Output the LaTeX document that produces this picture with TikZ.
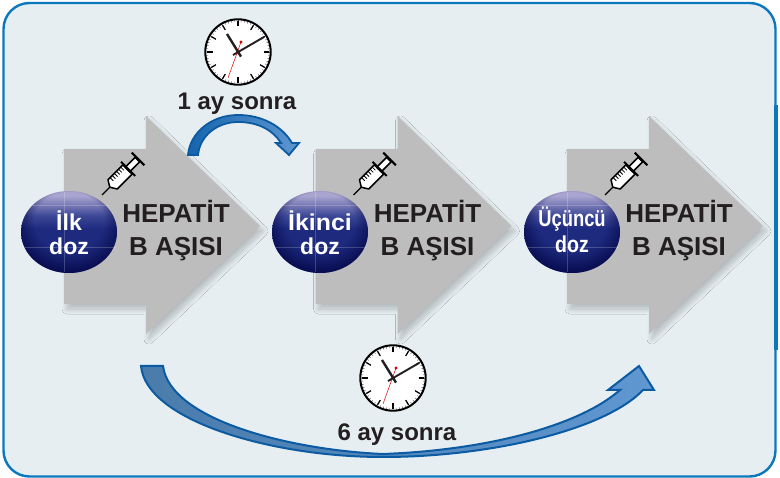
\documentclass[tikz,border=0pt]{standalone}
\usepackage{fontspec}
\setmainfont{Liberation Sans}
\usetikzlibrary{shadows.blur,calc,fadings}
\definecolor{panelbg}{HTML}{E6EEF2}
\definecolor{panelline}{HTML}{0B78BE}
\definecolor{arrowgrey}{HTML}{BDBDBD}
\definecolor{textdark}{HTML}{231F20}
\definecolor{curveline}{HTML}{0B5AA2}
\definecolor{curveA}{HTML}{4A7CAB}
\definecolor{curveB}{HTML}{5F97D1}
\definecolor{curveC}{HTML}{1565AD}
\definecolor{ballA}{HTML}{A9A4D0}
\definecolor{ballB}{HTML}{3C4796}
\definecolor{ballC}{HTML}{1D2A7E}
\definecolor{ballD}{HTML}{00003C}
\pgfdeclareverticalshading{ballshade}{100bp}{
  color(0bp)=(ballC); color(25bp)=(ballC); color(52bp)=(ballC); color(60bp)=(ballB); color(72bp)=(ballA); color(100bp)=(ballA)}
\pgfdeclareradialshading{rimshade}{\pgfpoint{0bp}{10bp}}{
  color(0bp)=(black); color(18bp)=(black); color(31bp)=(white!85!black); color(50bp)=(white)}
\pgfdeclarefading{rimfade}{\pgfuseshading{rimshade}}
\tikzset{
  bigarrow/.style={fill=arrowgrey,blur shadow={shadow xshift=3pt,shadow yshift=-5pt,shadow blur steps=16,shadow blur radius=5pt,shadow opacity=22}},
  headtext/.style={font=\fontsize{26}{26}\selectfont\bfseries,text=textdark,anchor=base,inner sep=0pt},
  balltext/.style={font=\fontsize{23}{23}\selectfont\bfseries,text=white,anchor=base,inner sep=0pt},
  timetext/.style={font=\fontsize{24}{24}\selectfont\bfseries,text=textdark,anchor=base,inner sep=0pt},
  curvearrow/.style={draw=curveline,line width=2pt,line join=miter,left color=curveA,right color=curveB},
  shortarrow/.style={draw=curveline,line width=1.8pt,line join=miter,left color=curveC,right color=curveB},
  synline/.style={draw=black,fill=white,line width=1.5pt,line join=round}
}
\newcommand{\clockface}[3]{%
 \begin{scope}[shift={(#1,#2)}]
  \fill[white] (0,0) circle (#3);
  \foreach \a in {0,6,...,354}{\draw[black!60,line width=.5pt] (\a:#3-3.5) -- (\a:#3-2);}
  \foreach \a in {0,30,...,330}{\draw[black,line width=1.3pt] (\a:#3-8) -- (\a:#3-2.5);}
  \draw[black,line width=2pt] (0,0) circle (#3-.8);
  \draw[textdark,line width=2.4pt] (3,4.6) -- (-11,-18);
  \draw[textdark,line width=1.9pt] (-5,3) -- (26,-15);
  \draw[red!85!black,line width=.5pt] (3,-10) -- (-10,26);
  \fill[red!85!black] (3,-10) circle (1.7);
  \fill[textdark] (0,0) circle (1.8);
 \end{scope}}
\begin{document}
\begin{tikzpicture}[x=1pt,y=-1pt]
\useasboundingbox (0,0) rectangle (780,478);
\fill[white] (0,0) rectangle (780,478);
\draw[fill=panelbg,draw=panelline,line width=2.4pt,rounded corners=26pt] (3.5,3) rectangle (775.5,476.5);
\fill[panelline] (773.5,105) rectangle (777.5,350);
\foreach \dx/\bx/\first/\second/\sc/\scb/\base/\baseb/\nm in {
   0/69/{İlk}/doz/1/1/231/255/a,
   251.5/320/{İkinci}/doz/1.08/1/231/255/b,
   503/572/{Üçüncü}/doz/.8/.85/227/253/c}{
 \begin{scope}[xshift=\dx pt]
  \path[bigarrow] (64,149) -- (146,149) -- (146,116) -- (260,226) -- (146,334) -- (146,304) -- (64,304) -- cycle;
  \node[headtext] (hep\nm) at (176,223) {HEPATİT};
  \node[headtext] (asi\nm) at (176,256) {B AŞISI};
  % syringe
  \begin{scope}[shift={(102,195)},rotate=45]
   \draw[black,line width=1.1pt] (0,0) -- (12,0);
   \path[synline] (11,0) -- (15,-6.5) -- (36,-6.5) -- (36,6.5) -- (15,6.5) -- cycle;
   \foreach \t in {18,21,24,27,30,33}{\draw[black,line width=.8pt] (\t,-6.5) -- (\t,-2);}
   \path[synline] (36,-3.2) rectangle (50,3.2);
   \draw[black,line width=2pt] (37,-10) -- (37,10);
   \draw[black,line width=2pt] (51,-9) -- (51,9);
  \end{scope}
  \shade[shading=ballshade] (\bx-\dx,232) ellipse (48 and 41);
  \fill[ballD,path fading=rimfade] (\bx-\dx,232) ellipse (48 and 41);
  \draw[white,opacity=.2,line width=.5pt] (\bx-\dx-47,247) -- (\bx-\dx+47,247);
  \draw[white,opacity=.2,line width=.5pt] (\bx-\dx-40,205) -- (\bx-\dx+40,205);
  \draw[white,opacity=.2,line width=.5pt] (\bx-\dx-5,192) -- (\bx-\dx-5,272);
  \node[balltext,xscale=\sc] (top\nm) at (\bx-\dx,\base) {\first};
  \node[balltext,xscale=\scb] (bot\nm) at (\bx-\dx,\baseb) {\second};
 \end{scope}}
\clockface{238}{52}{33.5}
\clockface{393}{378}{33.5}
\node[timetext] (one) at (237,110) {1 ay sonra};
\node[timetext] (six) at (397,441) {6 ay sonra};
% short curved arrow
\path[shortarrow] (188,155) .. controls (190,133) and (211,115) .. (238,115)
  .. controls (262,115) and (282,126) .. (292,143) -- (299,143) -- (289,155) -- (276,143) -- (281,143)
  .. controls (273,130) and (258,122) .. (238,122) .. controls (218,122) and (200,135) .. (198,155) -- cycle;
% long curved arrow
\path[curvearrow] (141,366) .. controls (146,420) and (270,457) .. (383,457)
  .. controls (490,457) and (605,430) .. (643,390) -- (654,390) -- (639,366) -- (608,390) -- (620,390)
  .. controls (580,425) and (490,450) .. (383,454)
  .. controls (290,450) and (170,420) .. (163,366) -- cycle;
\end{tikzpicture}
\end{document}
